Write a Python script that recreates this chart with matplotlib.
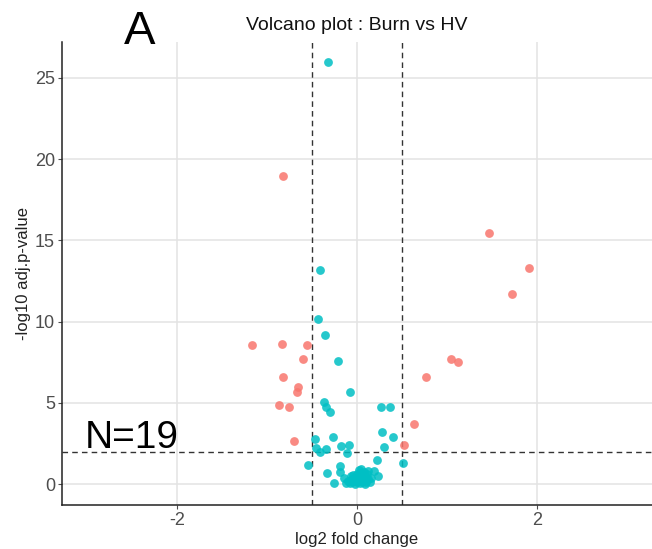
import matplotlib.pyplot as plt

plt.rcParams['font.family'] = ['Liberation Sans', 'DejaVu Sans']
plt.rcParams['axes.unicode_minus'] = False

# significant genes (|log2FC| > 0.5 and adj.p < 0.01)
sig_fc = [-0.82, -1.17, -0.83, -0.56, -0.60, -0.82, -0.66, -0.67, -0.87, -0.76, -0.70,
          1.47, 1.91, 1.72, 1.04, 1.12, 0.77, 0.63, 0.52]
sig_p = [18.95, 8.55, 8.6, 8.55, 7.7, 6.6, 5.95, 5.65, 4.85, 4.75, 2.65,
         15.45, 13.3, 11.7, 7.7, 7.5, 6.6, 3.7, 2.4]

# not significant
ns_fc = [-0.32, -0.41, -0.43, -0.36, -0.21, -0.08, -0.37, -0.34, -0.30, 0.27, 0.37,
         0.28, 0.40, -0.27, -0.47, -0.46, -0.41, -0.34, -0.18, -0.09, -0.11, 0.30,
         0.22, -0.54, 0.51, -0.33, -0.19, -0.19, 0.19, 0.23, -0.26,
         -0.08, -0.05, -0.02, 0.00, 0.03, 0.06, 0.09, -0.06, -0.03, 0.01, 0.04, 0.07,
         0.10, -0.10, -0.04, 0.00, 0.03, 0.06, 0.09, 0.12, 0.02, 0.05, -0.07, 0.11,
         -0.01, 0.04, 0.08, -0.12, 0.14, 0.12, -0.14, 0.16]
ns_p = [25.97, 13.2, 10.15, 9.17, 7.57, 5.66, 5.05, 4.74, 4.43, 4.74, 4.74,
        3.2, 2.9, 2.89, 2.77, 2.2, 2.0, 2.15, 2.33, 2.4, 1.9, 2.27,
        1.48, 1.17, 1.28, 0.67, 1.1, 0.72, 0.8, 0.49, 0.06,
        0.05, 0.1, 0.0, 0.15, 0.05, 0.1, 0.02, 0.3, 0.35, 0.4, 0.3, 0.25,
        0.15, 0.2, 0.55, 0.6, 0.7, 0.55, 0.45, 0.3, 0.85, 0.95, 0.5, 0.6,
        0.2, 0.5, 0.75, 0.05, 0.1, 0.8, 0.4, 0.35]

fc_cut = 0.5
p_cut = 2

fig = plt.figure(figsize=(6.52, 5.49), dpi=100)
ax = fig.add_axes([0.095, 0.080, 0.905, 0.8434])

ax.scatter(ns_fc, ns_p, s=40, color='#00BFC4', alpha=0.85, linewidths=0, zorder=3)
ax.scatter(sig_fc, sig_p, s=40, color='#F8766D', alpha=0.85, linewidths=0, zorder=3)

ax.axvline(-fc_cut, color='#333333', ls=(0, (4, 3)), lw=1, zorder=2)
ax.axvline(fc_cut, color='#333333', ls=(0, (4, 3)), lw=1, zorder=2)
ax.axhline(p_cut, color='#333333', ls=(0, (4, 3)), lw=1, zorder=2)

ax.set_xlim(-3.28, 3.28)
ax.set_ylim(-1.29, 27.2)
ax.set_xticks([-2, 0, 2])
ax.set_yticks([0, 5, 10, 15, 20, 25])
ax.grid(True, color='#e3e3e3', lw=1.1, zorder=0)
ax.set_axisbelow(True)

for s in ['top', 'right']:
    ax.spines[s].set_visible(False)
for s in ['left', 'bottom']:
    ax.spines[s].set_color('#222222')
    ax.spines[s].set_linewidth(1.1)
ax.tick_params(colors='#4d4d4d', labelsize=13, length=3, width=0.8, pad=2)

ax.set_xlabel('log2 fold change', fontsize=12, color='#222222', labelpad=2)
ax.set_ylabel('-log10 adj.p-value', fontsize=12, color='#222222', labelpad=3)
ax.set_title('Volcano plot : Burn vs HV', fontsize=14, color='#111111', pad=9)

fig.text(140 / 652, 1 - 44 / 549, 'A', fontsize=34, ha='center', va='baseline')
ax.text(-3.03, 2.2, 'N=19', fontsize=28, ha='left', va='baseline')

fig.savefig('out.png', dpi=100)
